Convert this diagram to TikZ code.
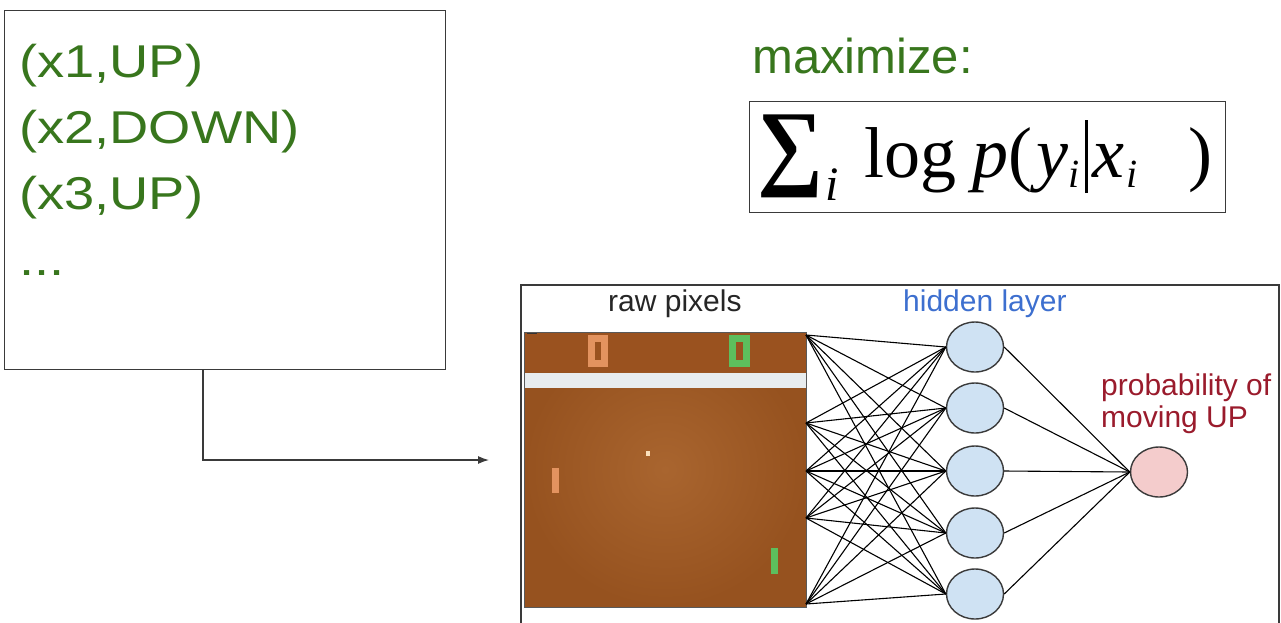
\documentclass[tikz,border=0pt]{standalone}
\usepackage{fontspec}
\setmainfont{Liberation Sans}
\newfontfamily\widesans[FakeStretch=1.18]{Liberation Sans}
\newfontfamily\mathserif{Liberation Serif}
\usetikzlibrary{arrows.meta,shapes.geometric}

\definecolor{labelgreen}{HTML}{38761D}
\definecolor{hiddenblue}{HTML}{3D6FCF}
\definecolor{outred}{HTML}{9A1B2C}
\definecolor{hiddenfill}{HTML}{CFE2F3}
\definecolor{outfill}{HTML}{F4CCCC}
\definecolor{frame}{HTML}{3A3A3A}
\definecolor{courtin}{HTML}{A9652F}
\definecolor{courtout}{HTML}{96521F}
\definecolor{courttop}{HTML}{9A521F}
\definecolor{stripe}{HTML}{E8ECEE}
\definecolor{padorange}{HTML}{E3935F}
\definecolor{padgreen}{HTML}{5DBE5D}
\definecolor{ballcol}{HTML}{FBE0BC}

\newcommand{\subi}{\raisebox{-10pt}{\fontsize{40}{40}\selectfont\itshape i}}

\tikzset{
  pairtext/.style={anchor=base west, inner sep=0, text=labelgreen,
    font=\widesans\fontsize{46}{46}\selectfont},
  labeltext/.style={anchor=base west, inner sep=0,
    font=\fontsize{30}{32}\selectfont},
  neuron/.style={ellipse, draw=frame, line width=1.4, minimum width=57,
    minimum height=50, inner sep=0},
  wire/.style={line width=1.1, black},
  box/.style={draw=frame, line width=1.4, inner sep=0, anchor=north west},
}

\begin{document}
\begin{tikzpicture}[x=1pt,y=-1pt]
\useasboundingbox (0,0) rectangle (1281,622);

% ---- training pairs ----
\node[box, minimum width=441, minimum height=359] (data) at (4,10) {};
\node[pairtext] (p1) at (19,77)  {(x1,UP)};
\node[pairtext] (p2) at (19,143) {(x2,DOWN)};
\node[pairtext] (p3) at (19,209) {(x3,UP)};
\node[pairtext] (p4) at (19,275) {...};

% ---- objective ----
\node[anchor=base west, inner sep=0, text=labelgreen,
      font=\fontsize{49}{49}\selectfont] (maxlbl) at (752,73) {maximize:};
\node[box, line width=1.2, minimum width=476, minimum height=111] (objbox) at (749,101) {};
\node[anchor=base west, inner sep=0, font=\mathserif\fontsize{72}{72}\selectfont] (obj) at (757,177)
 {\raisebox{-21pt}{\resizebox*{66pt}{83pt}{\raisebox{\depth}{\bfseries ∑}}}%
  \kern2pt\raisebox{-23pt}{\fontsize{48}{48}\selectfont\itshape i}%
  \kern26pt log\kern16pt{\itshape p}(\kern4pt{\itshape y}\subi
  \kern5pt\raisebox{-16pt}{\rule{3pt}{73pt}}\kern5pt{\itshape x}\kern2pt\subi\kern51pt)};

% ---- network panel ----
\coordinate (pnlA) at (521,630);
\coordinate (pnlB) at (521,285);
\coordinate (pnlC) at (1279,285);
\coordinate (pnlD) at (1279,630);
\draw[frame, line width=1.4] (pnlA) -- (pnlB) -- (pnlC) -- (pnlD);

% pong frame
\shade[inner color=courtin, outer color=courtout] (524,332) rectangle (806,607);
\fill[courttop] (524,332) rectangle (806,372);
\fill[stripe] (524,373) rectangle (806,388);
\draw[black!65, line width=0.8] (524,332) rectangle (806,607);
\draw[black!80, line width=1.5] (527,333.5) -- (537,333.5);
% score markers
\fill[padorange] (588,335) rectangle (608,367);
\fill[courttop] (595,342) rectangle (601,360);
\fill[padgreen] (729,335) rectangle (750,367);
\fill[courttop] (736,342) rectangle (743,360);
% paddles and ball
\fill[padorange] (552,468) rectangle (559,493);
\fill[padgreen] (771,548) rectangle (778,574);
\fill[ballcol] (646,451) rectangle (650,456);

\node[labeltext, text=black!85] (rawlbl) at (608,311) {raw pixels};
\node[labeltext, text=hiddenblue] (hidlbl) at (903,311) {hidden layer};
\node[labeltext, text=outred] (outlbl1) at (1101,395) {probability of};
\node[labeltext, text=outred] (outlbl2) at (1101,427) {moving UP};

% inputs on the image edge
\coordinate (in1) at (806,335);
\coordinate (in2) at (806,423);
\coordinate (in3) at (806,471);
\coordinate (in4) at (806,518);
\coordinate (in5) at (806,604);

% hidden and output units
\node[neuron, fill=hiddenfill] (h1) at (975,347) {};
\node[neuron, fill=hiddenfill] (h2) at (975,408) {};
\node[neuron, fill=hiddenfill] (h3) at (975,471) {};
\node[neuron, fill=hiddenfill] (h4) at (975,533) {};
\node[neuron, fill=hiddenfill] (h5) at (975,594) {};
\node[neuron, fill=outfill] (out) at (1159,472) {};

\foreach \i in {1,...,5}{
  \foreach \k in {1,...,5}{
    \draw[wire] (in\i) -- (h\k.west);
  }
}
\foreach \k in {1,...,5}{
  \draw[wire] (h\k.east) -- (out.west);
}

% ---- data feeds the network ----
\coordinate (bend) at (203,460);
\coordinate (feed) at (489,460);
\draw[frame, line width=1.3, -{Latex[length=11pt,width=8pt]}]
  (data.south -| bend) -- (bend) -- (feed);
\end{tikzpicture}
\end{document}
